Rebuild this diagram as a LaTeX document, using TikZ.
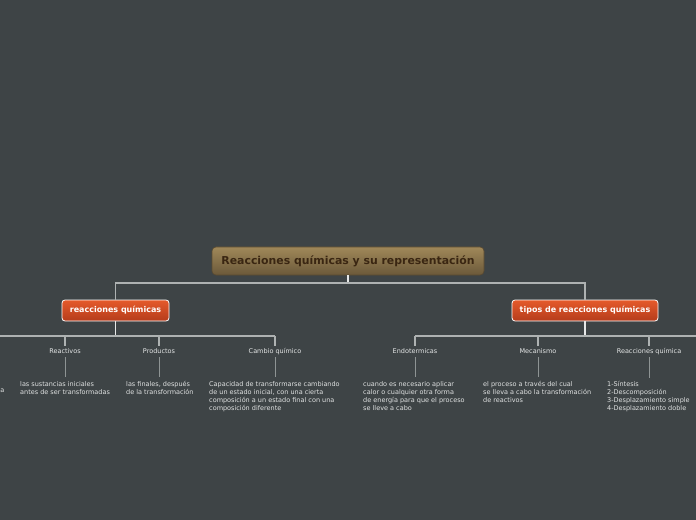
\documentclass[tikz,border=0pt]{standalone}
\usepackage{fontspec}
\setmainfont{DejaVu Sans}
\definecolor{bg}{HTML}{3E4446}
\definecolor{rootTop}{HTML}{A08859}
\definecolor{rootBot}{HTML}{6B593A}
\definecolor{rootBorder}{HTML}{5A4A30}
\definecolor{rootText}{HTML}{3A2612}
\definecolor{topicTop}{HTML}{E55A2B}
\definecolor{topicBot}{HTML}{B53C1B}
\definecolor{labText}{HTML}{E4E6E6}
\definecolor{descText}{HTML}{E0E2E2}
\definecolor{busCol}{HTML}{AEB2B2}
\definecolor{stemCol}{HTML}{E6E8E8}
\definecolor{thinCol}{HTML}{8E9494}
\begin{document}
\begin{tikzpicture}[x=1bp,y=-1bp,
  rootbox/.style={rounded corners=4bp, top color=rootTop, bottom color=rootBot, draw=rootBorder, line width=0.6bp,
    minimum width=272bp, minimum height=28bp, inner sep=0pt, text=rootText,
    font=\fontsize{10.9bp}{13bp}\selectfont\bfseries},
  topicbox/.style={rounded corners=3bp, top color=topicTop, bottom color=topicBot, draw=white, line width=0.8bp,
    minimum height=21bp, inner sep=0pt, text=white, text height=6bp, text depth=1.2bp,
    font=\fontsize{8bp}{10bp}\selectfont\bfseries},
  lab/.style={text=labText, font=\fontsize{6.5bp}{8bp}\selectfont, inner sep=2.5bp, text height=5bp, text depth=1.5bp},
  desc/.style={text=descText, font=\fontsize{6.5bp}{8bp}\selectfont, align=left, anchor=north west, inner sep=0pt},
  bus/.style={draw=busCol, line width=1.3bp},
  stem/.style={draw=stemCol, line width=1.2bp},
  thin/.style={draw=thinCol, line width=1bp}
]
\fill[bg] (0,0) rectangle (696,520);
\useasboundingbox (0,0) rectangle (696,520);

% nodes
\node[rootbox] (root) at (348,261) {Reacciones químicas y su representación};
\node[topicbox, minimum width=107bp] (c1) at (115.5,310.5) {reacciones químicas};
\node[topicbox, minimum width=146bp] (c2) at (585,310.5) {tipos de reacciones químicas};

\node[lab] (l1) at (65,351.5) {Reactivos};
\node[lab] (l2) at (159,351.5) {Productos};
\node[lab] (l3) at (275,351.5) {Cambio químico};
\node[lab] (r1) at (415,351.5) {Endotermicas};
\node[lab] (r2) at (538,351.5) {Mecanismo};
\node[lab] (r3) at (649,351.5) {Reacciones química};

\node[desc] (d1) at (20,381) {las sustancias iniciales\\antes de ser transformadas};
\node[desc] (d2) at (126,381) {las finales, después\\de la transformación};
\node[desc] (d3) at (209,381) {Capacidad de transformarse cambiando\\de un estado inicial, con una cierta\\composición a un estado final con una\\composición diferente};
\node[desc] (e1) at (363,381) {cuando es necesario aplicar\\calor o cualquier otra forma\\de energía para que el proceso\\se lleve a cabo};
\node[desc] (e2) at (483,381) {el proceso a través del cual\\se lleva a cabo la transformación\\de reactivos};
\node[desc] (e3) at (607,381) {1-Síntesis\\2-Descomposición\\3-Desplazamiento simple\\4-Desplazamiento doble};
\node[desc, anchor=north east] (cut) at (4.5,389) {a};

% bus coordinates
\coordinate (rootbus) at (348,283);
\coordinate (lbusW) at (0,336);
\coordinate (rbusE) at (696,336);

% root to topics
\draw[stem] (root.south) -- (rootbus);
\draw[bus] (rootbus) -| (c1.north);
\draw[bus] (rootbus) -| (c2.north);

% left topic
\draw[stem] (c1.south) -- (c1.south |- lbusW);
\draw[bus] (lbusW) -- (l3.north |- lbusW);
\draw[bus] (l1.north |- lbusW) -- (l1.north);
\draw[bus] (l2.north |- lbusW) -- (l2.north);
\draw[bus] (l3.north |- lbusW) -- (l3.north);

% right topic
\draw[stem] (c2.south) -- (c2.south |- rbusE);
\draw[bus] (r1.north |- rbusE) -- (rbusE);
\draw[bus] (r1.north |- rbusE) -- (r1.north);
\draw[bus] (r2.north |- rbusE) -- (r2.north);
\draw[bus] (r3.north |- rbusE) -- (r3.north);

% labels to descriptions
\draw[thin, shorten >=4bp] (l1.south) -- (l1.south |- d1.north);
\draw[thin, shorten >=4bp] (l2.south) -- (l2.south |- d2.north);
\draw[thin, shorten >=4bp] (l3.south) -- (l3.south |- d3.north);
\draw[thin, shorten >=4bp] (r1.south) -- (r1.south |- e1.north);
\draw[thin, shorten >=4bp] (r2.south) -- (r2.south |- e2.north);
\draw[thin, shorten >=3bp] (r3.south) -- (r3.south |- e3.north);
\end{tikzpicture}
\end{document}
